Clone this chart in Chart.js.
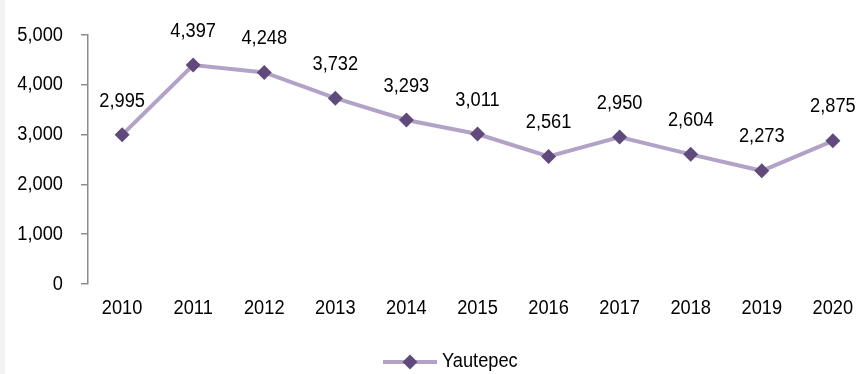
<!DOCTYPE html>
<html>
<head>
<meta charset="utf-8">
<script src="https://cdn.jsdelivr.net/npm/chart.js@4/dist/chart.umd.min.js"></script>
<style>
  html, body { margin: 0; padding: 0; background: #fff; overflow: hidden; }
  #wrap { position: relative; width: 862px; height: 374px; }
  #edge { position: absolute; left: 0; top: 0; width: 5px; height: 374px; background: #f2f2f2; }
  canvas { position: absolute; left: 0; top: 0; }
</style>
</head>
<body>
<div id="wrap">
  <canvas id="c" width="862" height="374"></canvas>
  <div id="edge"></div>
</div>
<script>
// Annual figures for Yautepec
const years = [2010, 2011, 2012, 2013, 2014, 2015, 2016, 2017, 2018, 2019, 2020];
const values = [2995, 4397, 4248, 3732, 3293, 3011, 2561, 2950, 2604, 2273, 2875];
const yTicks = [0, 1000, 2000, 3000, 4000, 5000];
const seriesName = 'Yautepec';

const lineColor = '#b3a2c7';
const markColor = '#604a7b';
const fontFamily = '"Liberation Sans", Arial, sans-serif';
const fontSize = 20.5;
const textSqueeze = 0.89; // narrow-set lettering

const fmt = v => Number(v).toLocaleString('en-US');

// Draw all text slightly condensed horizontally around its anchor point
const canvas = document.getElementById('c');
const ctx2d = canvas.getContext('2d');
const baseFillText = ctx2d.fillText;
ctx2d.fillText = function (text, x, y, maxWidth) {
  this.save();
  this.translate(x, y);
  this.scale(textSqueeze, 1);
  if (maxWidth !== undefined) {
    baseFillText.call(this, text, 0, 0, maxWidth / textSqueeze);
  } else {
    baseFillText.call(this, text, 0, 0);
  }
  this.restore();
};

// Value labels above each marker
const valueLabels = {
  id: 'valueLabels',
  afterDatasetsDraw(chart) {
    const ctx = chart.ctx;
    const meta = chart.getDatasetMeta(0);
    ctx.save();
    ctx.font = fontSize + 'px ' + fontFamily;
    ctx.fillStyle = '#000';
    ctx.textAlign = 'center';
    ctx.textBaseline = 'middle';
    meta.data.forEach((pt, i) => {
      ctx.fillText(fmt(values[i]), pt.x, pt.y - 34);
    });
    ctx.restore();
  }
};

// Legend: line segment with a diamond, then the series name
const lineLegend = {
  id: 'lineLegend',
  afterDraw(chart) {
    const ctx = chart.ctx;
    const cy = 362;
    const x0 = 383, x1 = 437, cx = 410;
    ctx.save();
    ctx.strokeStyle = lineColor;
    ctx.lineWidth = 4;
    ctx.beginPath();
    ctx.moveTo(x0, cy);
    ctx.lineTo(x1, cy);
    ctx.stroke();
    ctx.fillStyle = markColor;
    const r = 7.5;
    ctx.beginPath();
    ctx.moveTo(cx, cy - r);
    ctx.lineTo(cx + r, cy);
    ctx.lineTo(cx, cy + r);
    ctx.lineTo(cx - r, cy);
    ctx.closePath();
    ctx.fill();
    ctx.font = fontSize + 'px ' + fontFamily;
    ctx.fillStyle = '#000';
    ctx.textAlign = 'left';
    ctx.textBaseline = 'middle';
    ctx.fillText(seriesName, 442, cy - 1);
    ctx.restore();
  }
};

new Chart(canvas, {
  type: 'line',
  data: {
    datasets: [{
      label: seriesName,
      data: years.map((y, i) => ({ x: y, y: values[i] })),
      borderColor: lineColor,
      borderWidth: 4,
      pointStyle: 'rectRot',
      pointRadius: 7.5,
      pointHoverRadius: 7.5,
      pointBackgroundColor: markColor,
      pointBorderColor: markColor,
      pointBorderWidth: 0,
      tension: 0,
      clip: false
    }]
  },
  options: {
    responsive: false,
    animation: false,
    events: [],
    layout: { autoPadding: false, padding: { top: 35, left: 0, right: 0, bottom: 0 } },
    plugins: {
      legend: { display: false },
      tooltip: { enabled: false }
    },
    scales: {
      x: {
        type: 'linear',
        min: 2009.52,
        max: 2020.41,
        afterBuildTicks: s => { s.ticks = years.map(v => ({ value: v })); },
        afterFit: s => {
          s.height = 90;
          s.paddingLeft = 0;
          s.paddingRight = 0;
        },
        border: { display: false },
        grid: { display: false, drawTicks: false },
        ticks: {
          padding: 12,
          maxRotation: 0,
          autoSkip: false,
          color: '#000',
          font: { family: fontFamily, size: fontSize },
          callback: v => String(v)
        }
      },
      y: {
        min: 0,
        max: 5000,
        afterBuildTicks: s => { s.ticks = yTicks.map(v => ({ value: v })); },
        afterFit: s => { s.width = 88; },
        border: { display: true, color: '#8c8c8c', width: 1.5 },
        grid: {
          drawOnChartArea: false,
          drawTicks: true,
          tickLength: 7,
          color: '#8c8c8c',
          lineWidth: 1.5
        },
        ticks: {
          padding: 18,
          color: '#000',
          font: { family: fontFamily, size: fontSize },
          callback: v => fmt(v)
        }
      }
    }
  },
  plugins: [valueLabels, lineLegend]
});
</script>
</body>
</html>
